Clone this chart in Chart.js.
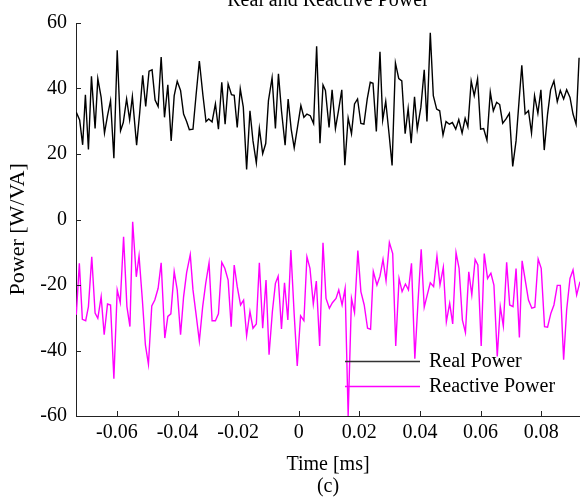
<!DOCTYPE html>
<html>
<head>
<meta charset="utf-8">
<script src="https://cdn.jsdelivr.net/npm/chart.js@4.4.0/dist/chart.umd.min.js"></script>
<style>
  html, body { margin: 0; padding: 0; background: #fff; }
  canvas { display: block; }
</style>
</head>
<body>
<canvas id="power-chart" width="580" height="498"></canvas>
<script>
// sample times [ms] and values
const realTime = [
  -0.0734, -0.0723, -0.0713, -0.0704, -0.0694, -0.0684, -0.0672, -0.0663, -0.0652, -0.0641,
  -0.0631, -0.0621, -0.0610, -0.0599, -0.0588, -0.0579, -0.0568, -0.0558, -0.0549, -0.0535,
  -0.0525, -0.0515, -0.0505, -0.0494, -0.0484, -0.0474, -0.0464, -0.0454, -0.0443, -0.0432,
  -0.0421, -0.0411, -0.0401, -0.0390, -0.0380, -0.0370, -0.0361, -0.0349, -0.0339, -0.0328,
  -0.0316, -0.0306, -0.0297, -0.0286, -0.0275, -0.0265, -0.0254, -0.0243, -0.0233, -0.0222,
  -0.0213, -0.0203, -0.0193, -0.0183, -0.0172, -0.0161, -0.0151, -0.0140, -0.0130, -0.0119,
  -0.0109, -0.0100, -0.0088, -0.0077, -0.0067, -0.0057, -0.0045, -0.0035, -0.0025, -0.0015,
  -0.0004, 0.0007, 0.0017, 0.0027, 0.0038, 0.0049, 0.0059, 0.0070, 0.0080, 0.0088,
  0.0100, 0.0110, 0.0121, 0.0131, 0.0142, 0.0152, 0.0163, 0.0174, 0.0184, 0.0194,
  0.0205, 0.0215, 0.0226, 0.0236, 0.0245, 0.0256, 0.0268, 0.0277, 0.0287, 0.0298,
  0.0308, 0.0319, 0.0330, 0.0340, 0.0351, 0.0361, 0.0371, 0.0382, 0.0391, 0.0403,
  0.0414, 0.0423, 0.0434, 0.0444, 0.0455, 0.0465, 0.0476, 0.0486, 0.0497, 0.0507,
  0.0518, 0.0528, 0.0539, 0.0549, 0.0558, 0.0569, 0.0579, 0.0590, 0.0600, 0.0610,
  0.0621, 0.0632, 0.0642, 0.0653, 0.0663, 0.0673, 0.0684, 0.0695, 0.0706, 0.0717,
  0.0727, 0.0736, 0.0747, 0.0758, 0.0768, 0.0778, 0.0789, 0.0799, 0.0810, 0.0821,
  0.0831, 0.0842, 0.0853, 0.0863, 0.0874, 0.0884, 0.0895, 0.0905, 0.0915, 0.0925
];
const realPower = [
  32.7, 30.4, 22.8, 38.1, 21.4, 43.7, 27.8, 43.0, 37.3, 26.4,
  31.7, 36.3, 18.7, 51.7, 27.1, 29.6, 36.8, 30.4, 37.5, 22.7,
  32.4, 44.0, 34.5, 45.3, 45.7, 36.5, 34.5, 49.6, 31.2, 41.1,
  24.0, 37.8, 42.2, 39.4, 32.2, 29.9, 27.4, 27.6, 37.8, 48.4,
  37.8, 29.9, 30.7, 29.8, 35.3, 27.6, 41.9, 29.1, 41.4, 38.1,
  37.9, 28.1, 39.9, 34.3, 15.3, 33.2, 24.0, 17.3, 27.8, 20.1,
  23.2, 36.3, 43.3, 27.8, 44.5, 33.2, 22.7, 36.8, 27.6, 21.9,
  28.3, 34.8, 31.2, 32.2, 31.7, 29.3, 52.9, 23.3, 41.1, 39.4,
  28.1, 39.6, 27.8, 33.2, 39.6, 16.6, 31.0, 26.2, 35.3, 36.8,
  29.3, 29.1, 36.8, 41.9, 41.6, 26.9, 51.2, 30.4, 36.1, 26.1,
  16.5, 47.8, 43.0, 42.3, 26.2, 33.9, 23.3, 37.5, 27.6, 34.3,
  45.7, 29.9, 57.0, 37.8, 33.7, 33.2, 25.8, 29.9, 29.1, 29.6,
  27.6, 30.5, 26.4, 30.9, 28.3, 42.3, 37.8, 43.0, 27.6, 27.8,
  24.2, 38.9, 33.2, 35.8, 35.1, 29.4, 30.7, 32.4, 16.2, 24.0,
  36.3, 47.1, 32.2, 33.2, 26.4, 37.8, 32.4, 39.6, 21.2, 32.2,
  39.6, 42.3, 36.0, 39.4, 36.8, 39.6, 37.3, 32.2, 29.1, 49.4
];
const reactiveTime = [
  -0.0734, -0.0724, -0.0714, -0.0703, -0.0694, -0.0683, -0.0672, -0.0663, -0.0652, -0.0642,
  -0.0631, -0.0621, -0.0610, -0.0599, -0.0589, -0.0578, -0.0567, -0.0557, -0.0548, -0.0536,
  -0.0527, -0.0516, -0.0506, -0.0496, -0.0485, -0.0475, -0.0464, -0.0454, -0.0442, -0.0432,
  -0.0422, -0.0411, -0.0401, -0.0390, -0.0380, -0.0370, -0.0358, -0.0349, -0.0338, -0.0328,
  -0.0317, -0.0307, -0.0296, -0.0286, -0.0275, -0.0265, -0.0254, -0.0244, -0.0233, -0.0223,
  -0.0213, -0.0203, -0.0192, -0.0182, -0.0172, -0.0161, -0.0151, -0.0140, -0.0130, -0.0119,
  -0.0108, -0.0098, -0.0087, -0.0077, -0.0068, -0.0057, -0.0047, -0.0036, -0.0026, -0.0015,
  -0.0005, 0.0006, 0.0017, 0.0027, 0.0037, 0.0048, 0.0058, 0.0069, 0.0080, 0.0090,
  0.0101, 0.0111, 0.0123, 0.0132, 0.0143, 0.0153, 0.0163, 0.0174, 0.0184, 0.0195,
  0.0205, 0.0216, 0.0227, 0.0237, 0.0246, 0.0258, 0.0268, 0.0278, 0.0288, 0.0299,
  0.0310, 0.0320, 0.0331, 0.0341, 0.0352, 0.0362, 0.0372, 0.0383, 0.0393, 0.0404,
  0.0414, 0.0424, 0.0434, 0.0445, 0.0456, 0.0466, 0.0477, 0.0487, 0.0498, 0.0508,
  0.0519, 0.0529, 0.0540, 0.0550, 0.0561, 0.0571, 0.0582, 0.0591, 0.0602, 0.0612,
  0.0623, 0.0634, 0.0644, 0.0655, 0.0665, 0.0675, 0.0686, 0.0696, 0.0707, 0.0717,
  0.0728, 0.0737, 0.0749, 0.0758, 0.0769, 0.0779, 0.0790, 0.0800, 0.0811, 0.0821,
  0.0832, 0.0842, 0.0853, 0.0863, 0.0874, 0.0884, 0.0895, 0.0905, 0.0917, 0.0928
];
const reactivePower = [
  -29.1, -13.4, -30.5, -30.9, -26.6, -11.4, -28.6, -30.2, -23.6, -35.2,
  -25.8, -26.1, -48.6, -21.5, -25.4, -5.3, -26.6, -32.7, -0.7, -17.5,
  -11.1, -24.6, -38.3, -44.2, -26.4, -24.6, -21.0, -13.2, -36.2, -29.6,
  -28.8, -15.9, -21.5, -35.2, -23.6, -16.2, -10.7, -21.5, -29.6, -37.1,
  -26.6, -19.5, -13.2, -30.9, -30.9, -28.8, -13.1, -14.9, -18.5, -32.7,
  -13.9, -20.5, -26.1, -24.6, -35.5, -28.1, -33.2, -31.9, -13.2, -33.2,
  -18.5, -41.3, -28.1, -19.5, -17.3, -33.4, -19.3, -30.7, -9.3, -29.1,
  -44.7, -29.4, -30.9, -11.4, -14.9, -25.8, -18.8, -38.6, -7.1, -24.1,
  -27.1, -25.4, -24.1, -21.5, -26.1, -21.0, -60.0, -24.1, -28.4, -9.5,
  -22.0, -26.1, -33.2, -33.5, -15.9, -20.0, -17.3, -12.2, -18.7, -7.0,
  -10.4, -38.6, -18.0, -22.0, -19.7, -21.5, -13.4, -42.5, -26.0, -9.1,
  -26.8, -23.0, -19.3, -20.5, -11.2, -20.0, -14.6, -31.2, -25.6, -31.9,
  -10.1, -14.9, -30.7, -34.5, -16.0, -23.0, -12.2, -13.9, -38.6, -10.4,
  -18.0, -16.4, -20.0, -41.8, -26.6, -32.5, -13.1, -26.1, -26.6, -15.0,
  -36.0, -12.6, -19.5, -24.6, -27.1, -26.8, -12.1, -14.9, -32.7, -32.9,
  -28.6, -26.1, -20.1, -20.1, -42.8, -27.6, -18.0, -15.4, -23.0, -19.0
];

const xTicks = [-0.06, -0.04, -0.02, 0, 0.02, 0.04, 0.06, 0.08];
const xTickLabels = ['-0.06', '-0.04', '-0.02', '0', '0.02', '0.04', '0.06', '0.08'];
const yTicks = [-60, -40, -20, 0, 20, 40, 60];

const FONT = '"Liberation Serif", "Times New Roman", serif';
const AXIS = '#222';

const toPoints = (t, v) => t.map((x, i) => ({ x: x, y: v[i] }));

// inward tick marks, cut-off title, y label and the in-plot legend
const decorations = {
  id: 'decorations',
  afterDatasetsDraw(chart) {
    const { ctx, chartArea: a, scales: { x, y } } = chart;
    ctx.save();
    ctx.strokeStyle = AXIS;
    ctx.lineWidth = 1;
    ctx.beginPath();
    xTicks.forEach(v => {
      const px = Math.round(x.getPixelForValue(v)) + 0.5;
      ctx.moveTo(px, a.bottom);
      ctx.lineTo(px, a.bottom - 5);
    });
    yTicks.forEach(v => {
      const py = Math.round(y.getPixelForValue(v)) + 0.5;
      ctx.moveTo(a.left, py);
      ctx.lineTo(a.left + 5, py);
    });
    ctx.stroke();

    ctx.fillStyle = '#000';
    ctx.font = '20px ' + FONT;
    ctx.textAlign = 'center';
    ctx.textBaseline = 'alphabetic';
    ctx.fillText('Real and Reactive Power', (a.left + a.right) / 2, 6);

    // y axis label sits a little below the middle of the axis
    ctx.save();
    ctx.translate(18, y.getPixelForValue(-3));
    ctx.rotate(-Math.PI / 2);
    ctx.font = '22px ' + FONT;
    ctx.textBaseline = 'middle';
    ctx.fillText('Power [W/VA]', 0, 0);
    ctx.restore();

    // legend, no frame
    const lx = a.right - 235;
    let ly = a.bottom - 55;
    ctx.font = '20px ' + FONT;
    ctx.textAlign = 'left';
    ctx.textBaseline = 'middle';
    chart.data.datasets.forEach(ds => {
      ctx.strokeStyle = ds.label === 'Real Power' ? '#333' : ds.borderColor;
      ctx.lineWidth = 1.5;
      ctx.beginPath();
      ctx.moveTo(lx, ly + 0.5);
      ctx.lineTo(lx + 75, ly + 0.5);
      ctx.stroke();
      ctx.fillStyle = '#000';
      ctx.fillText(ds.label, lx + 84, ly + 1);
      ly += 25;
    });
    ctx.restore();
  }
};

const ctx = document.getElementById('power-chart').getContext('2d');
new Chart(ctx, {
  type: 'line',
  data: {
    datasets: [{
      label: 'Real Power',
      data: toPoints(realTime, realPower),
      borderColor: '#000',
      borderWidth: 1.4,
      pointRadius: 0,
      tension: 0,
      fill: false
    }, {
      label: 'Reactive Power',
      data: toPoints(reactiveTime, reactivePower),
      borderColor: '#ff00ff',
      borderWidth: 1.4,
      pointRadius: 0,
      tension: 0,
      fill: false
    }]
  },
  options: {
    responsive: false,
    animation: false,
    devicePixelRatio: 1,
    layout: { padding: { top: 23, right: 0, bottom: 0, left: 0 } },
    plugins: {
      legend: { display: false },
      tooltip: { enabled: false }
    },
    scales: {
      x: {
        type: 'linear',
        min: -0.0735,
        max: 0.0928,
        afterBuildTicks: axis => { axis.ticks = xTicks.map(v => ({ value: v })); },
        afterFit: scale => { scale.height = 82; },
        grid: { display: false, drawTicks: false },
        border: { display: true, color: AXIS, width: 1 },
        ticks: {
          color: '#000',
          padding: 5,
          maxRotation: 0,
          autoSkip: false,
          font: { family: FONT, size: 20 },
          callback: (value, index) => xTickLabels[index]
        },
        title: {
          display: true,
          text: ['Time [ms]', '(c)'],
          color: '#000',
          padding: { top: 0, bottom: 0 },
          font: { family: FONT, size: 20, lineHeight: 1.1 }
        }
      },
      y: {
        min: -60,
        max: 60,
        afterBuildTicks: axis => { axis.ticks = yTicks.map(v => ({ value: v })); },
        afterFit: scale => { scale.width = 76; },
        grid: { display: false, drawTicks: false },
        border: { display: true, color: AXIS, width: 1 },
        ticks: {
          color: '#000',
          padding: 9,
          font: { family: FONT, size: 20 },
          callback: value => String(value)
        },
        title: { display: false }
      }
    }
  },
  plugins: [decorations]
});
</script>
</body>
</html>
